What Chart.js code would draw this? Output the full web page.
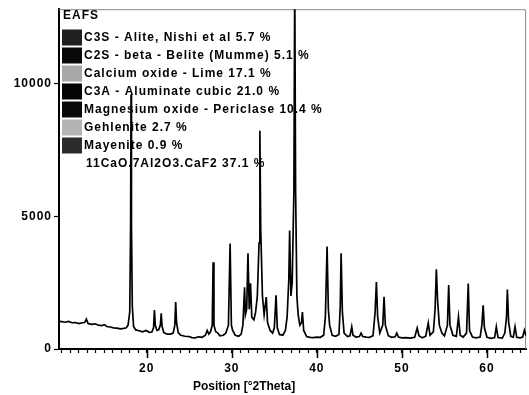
<!DOCTYPE html>
<html>
<head>
<meta charset="utf-8">
<script src="https://cdn.jsdelivr.net/npm/chart.js@4.4.0/dist/chart.umd.min.js"></script>
<style>
  html, body { margin: 0; padding: 0; background: #fff; }
  #wrap { width: 529px; height: 395px; }
</style>
</head>
<body>
<div id="wrap"><canvas id="xrd" width="529" height="395"></canvas></div>
<script>
// diffractogram: position (deg 2theta) and counts
const twoTheta = [
  9.7, 10.0, 10.4, 10.8, 11.2, 11.6, 12.0, 12.4, 12.7, 12.9, 13.1, 13.5, 13.9, 14.3, 14.7, 15.0, 15.3, 15.7, 16.1, 16.5,
  16.9, 17.3, 17.6, 17.8, 18.0, 18.1, 18.15, 18.2, 18.3, 18.45, 18.7, 19.1, 19.5, 19.9, 20.3, 20.6, 20.8, 20.9, 21.0, 21.2,
  21.4, 21.6, 21.7, 21.8, 22.0, 22.4, 22.8, 23.1, 23.3, 23.4, 23.5, 23.7, 24.0, 24.5, 25.0, 25.3, 25.7, 26.1, 26.5, 26.9,
  27.1, 27.3, 27.5, 27.7, 27.8, 27.9, 28.1, 28.3, 28.6, 29.0, 29.3, 29.6, 29.8, 29.95, 30.1, 30.4, 30.8, 31.1, 31.3, 31.5,
  31.6, 31.75, 31.9, 32.05, 32.2, 32.35, 32.6, 32.8, 33.0, 33.2, 33.3, 33.4, 33.6, 33.8, 34.05, 34.2, 34.5, 34.8, 35.0, 35.2,
  35.35, 35.6, 36.0, 36.3, 36.5, 36.7, 36.8, 36.95, 37.1, 37.3, 37.4, 37.5, 37.65, 37.8, 38.0, 38.2, 38.3, 38.45, 38.8, 39.2,
  39.6, 40.0, 40.4, 40.8, 41.0, 41.2, 41.35, 41.5, 41.8, 42.2, 42.6, 42.75, 42.85, 43.0, 43.2, 43.6, 43.9, 44.1, 44.25, 44.6,
  45.0, 45.2, 45.4, 45.8, 46.2, 46.6, 46.85, 47.0, 47.15, 47.4, 47.75, 47.9, 48.05, 48.4, 48.8, 49.2, 49.4, 49.6, 50.0, 50.5,
  51.0, 51.5, 51.8, 52.0, 52.4, 52.8, 53.1, 53.3, 53.7, 53.9, 54.05, 54.2, 54.4, 54.7, 55.0, 55.35, 55.5, 55.65, 56.0, 56.4,
  56.65, 56.85, 57.2, 57.6, 57.8, 57.95, 58.3, 58.7, 59.2, 59.4, 59.55, 59.7, 60.0, 60.5, 60.9, 61.1, 61.3, 61.8, 62.1, 62.3,
  62.4, 62.55, 62.8, 63.1, 63.3, 63.5, 63.9, 64.2, 64.4, 64.6
];
const counts = [
  1040, 1030, 1010, 1040, 990, 1000, 960, 990, 1000, 1130, 960, 930, 950, 900, 880, 920, 850, 830, 800, 790,
  760, 780, 800, 900, 1400, 4660, 9600, 4660, 1600, 850, 720, 690, 650, 700, 630, 640, 800, 1470, 900, 700,
  720, 900, 1350, 850, 620, 560, 560, 600, 900, 1770, 1000, 620, 520, 480, 470, 430, 420, 460, 440, 520,
  700, 560, 650, 900, 3270, 900, 650, 620, 500, 520, 600, 900, 3980, 900, 700, 520, 480, 560, 900, 2330,
  1300, 1500, 3610, 1500, 2480, 1200, 1100, 1400, 2000, 4000, 8230, 4500, 2000, 1300, 1960, 1000, 700, 600, 800, 2030,
  800, 550, 520, 700, 1200, 2600, 4470, 2000, 2500, 6000, 14000, 6000, 2000, 1300, 900, 1000, 1390, 700, 470, 440,
  430, 450, 440, 520, 1200, 3870, 1500, 900, 520, 480, 550, 1600, 3610, 1400, 600, 470, 500, 840, 520, 450,
  470, 600, 470, 450, 440, 500, 1400, 2530, 1200, 600, 900, 1970, 900, 500, 440, 460, 600, 450, 420, 430,
  410, 440, 790, 500, 420, 480, 980, 520, 650, 1500, 3010, 1800, 900, 600, 500, 900, 2410, 900, 520, 480,
  1210, 520, 450, 600, 2470, 700, 450, 420, 450, 900, 1650, 800, 440, 400, 430, 840, 430, 410, 600, 1200,
  2240, 1000, 480, 450, 840, 440, 420, 450, 710, 500
];

const legendTitle = 'EAFS';
const phaseNames = [
  'C3S - Alite, Nishi et al 5.7 %',
  'C2S - beta - Belite (Mumme) 5.1 %',
  'Calcium oxide - Lime 17.1 %',
  'C3A - Aluminate cubic 21.0 %',
  'Magnesium oxide - Periclase 10.4 %',
  'Gehlenite 2.7 %',
  'Mayenite 0.9 %',
  '11CaO.7Al2O3.CaF2 37.1 %'
];
const yTickValues = [0, 5000, 10000];
const xLabelValues = [20, 30, 40, 50, 60];
const xAxisTitle = 'Position [°2Theta]';

// legend swatch shades (scan is greyscale)
const phaseShades = ['#202020', '#080808', '#a8a8a8', '#050505', '#0a0a0a', '#b4b4b4', '#2c2c2c', null];

const FONT = 'bold 12px "Liberation Sans", Arial, sans-serif';

const points = twoTheta.map((t, i) => ({ x: t, y: counts[i] }));

const framePlugin = {
  id: 'frame',
  beforeDraw(chart) {
    // the scanned labels are a bit stretched sideways
    chart.ctx.letterSpacing = '1px';
  },
  beforeDatasetsDraw(chart) {
    const { ctx, chartArea: a } = chart;
    ctx.save();
    ctx.strokeStyle = '#8a8a8a';
    ctx.lineWidth = 1;
    ctx.beginPath();
    ctx.moveTo(a.left, a.top + 0.5);
    ctx.lineTo(a.right - 0.5, a.top + 0.5);
    ctx.lineTo(a.right - 0.5, a.bottom);
    ctx.stroke();
    ctx.restore();
  },
  afterDraw(chart) {
    const { ctx, chartArea: a, scales } = chart;
    ctx.save();
    // longer ticks at the labelled positions
    ctx.strokeStyle = '#000';
    ctx.lineWidth = 1.5;
    xLabelValues.forEach(v => {
      const px = Math.round(scales.x.getPixelForValue(v)) + 0.5;
      ctx.beginPath();
      ctx.moveTo(px, a.bottom);
      ctx.lineTo(px, a.bottom + 9);
      ctx.stroke();
    });
    ctx.fillStyle = '#000';
    ctx.font = FONT;
    ctx.textBaseline = 'middle';
    ctx.textAlign = 'left';
    // phase legend
    ctx.letterSpacing = '1px';
    ctx.fillText(legendTitle, 63, 16);
    phaseNames.forEach((name, i) => {
      const cy = 37.5 + i * 18;
      if (phaseShades[i]) {
        ctx.fillStyle = phaseShades[i];
        ctx.fillRect(62, cy - 8, 20, 16);
      }
      ctx.fillStyle = '#000';
      ctx.fillText(name, i === phaseNames.length - 1 ? 86 : 84, cy);
    });
    // axis title
    ctx.letterSpacing = '0px';
    ctx.fillText(xAxisTitle, 193, 387);
    ctx.restore();
  }
};

new Chart(document.getElementById('xrd'), {
  type: 'line',
  data: {
    datasets: [{
      label: 'EAFS',
      data: points,
      borderColor: '#000',
      borderWidth: 1.7,
      pointRadius: 0,
      tension: 0,
      fill: false
    }]
  },
  options: {
    responsive: false,
    animation: false,
    events: [],
    layout: { padding: { top: 8, right: 2, left: 0, bottom: 0 } },
    plugins: { legend: { display: false }, tooltip: { enabled: false } },
    scales: {
      x: {
        type: 'linear',
        min: 9.68,
        max: 64.6,
        afterFit: s => { s.height = 46; },
        afterBuildTicks: s => {
          const t = [];
          for (let v = 10; v <= 64; v++) t.push({ value: v });
          s.ticks = t;
        },
        ticks: {
          autoSkip: false,
          maxRotation: 0,
          padding: 8,
          color: '#000',
          font: { family: '"Liberation Sans", Arial, sans-serif', size: 12, weight: 'bold' },
          callback: v => (xLabelValues.includes(v) ? String(v) : '')
        },
        grid: { drawOnChartArea: false, tickLength: 4, tickWidth: 1.2, tickColor: '#000' },
        border: { color: '#000', width: 2 }
      },
      y: {
        min: 0,
        max: 12820,
        afterFit: s => { s.width = 59; },
        afterBuildTicks: s => { s.ticks = yTickValues.map(v => ({ value: v })); },
        ticks: {
          padding: 2,
          color: '#000',
          font: { family: '"Liberation Sans", Arial, sans-serif', size: 12, weight: 'bold' },
          callback: v => String(v)
        },
        grid: { drawOnChartArea: false, tickLength: 5, tickWidth: 1.2, tickColor: '#000' },
        border: { color: '#000', width: 2 }
      }
    }
  },
  plugins: [framePlugin]
});
</script>
</body>
</html>
